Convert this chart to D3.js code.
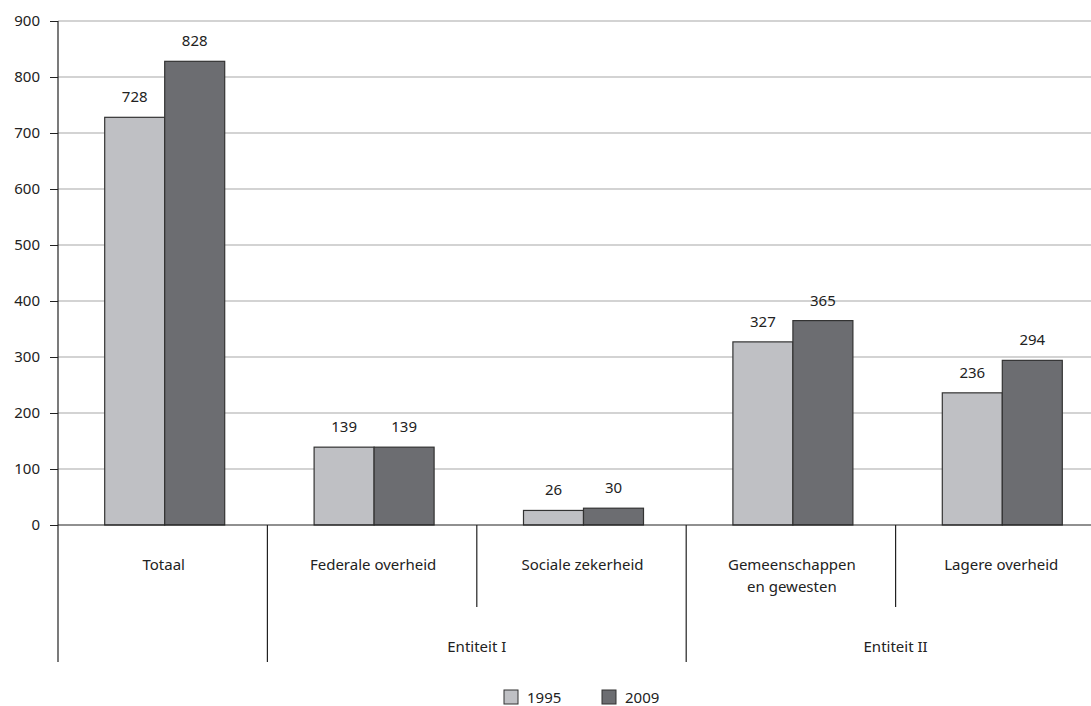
<!DOCTYPE html>
<html lang="nl">
<head>
<meta charset="UTF-8">
<title>Entiteiten</title>
<script src="https://cdn.jsdelivr.net/npm/d3@7"></script>
<style>
    * { margin: 0; padding: 0; }
    body { background: #fff; }
    svg text { font-family: "Noto Sans", "DejaVu Sans", sans-serif; font-size: 15px; fill: #222; }
</style>
</head>
<body>
<svg id="chart" width="1091" height="706"></svg>
<script>
    // data
    var categories = ["Totaal", "Federale overheid", "Sociale zekerheid", "Gemeenschappen\nen gewesten", "Lagere overheid"];
    var groups = [
        {name: "Entiteit I", from: 1, to: 2},
        {name: "Entiteit II", from: 3, to: 4}
    ];
    var years = ["1995", "2009"];
    var v1995 = [728, 139, 26, 327, 236];
    var v2009 = [828, 139, 30, 365, 294];
    var yTicks = [0, 100, 200, 300, 400, 500, 600, 700, 800, 900];

    var colors = {"1995": "#bfc0c4", "2009": "#6c6d71"};

    var svg = d3.select("#chart");
    var mLeft = 58, mTop = 21, mBottom = 525;

    var x = d3.scaleBand().domain(d3.range(categories.length)).range([mLeft, mLeft + 209.4 * 5]).paddingInner(0).paddingOuter(0);
    var y = d3.scaleLinear().domain([0, 900]).range([mBottom, mTop]);
    var xs = d3.scaleBand().domain(years).range([0, 120]);
    /* bar pair sits slightly right of the band centre */
    function barX(d) { return x(d.i) + x.bandwidth() / 2 - 58 + xs(d.year); }

    /* gridlines */
    svg.append("g").selectAll("line").data(yTicks.filter(function (d) { return d > 0; }))
        .enter().append("line")
        .attr("x1", mLeft).attr("x2", 1091)
        .attr("y1", function (d) { return y(d); }).attr("y2", function (d) { return y(d); })
        .attr("stroke", "#a8a8a8").attr("stroke-width", 1.2);

    /* y axis */
    var yAxis = svg.append("g").attr("transform", "translate(" + mLeft + ",0)")
        .call(d3.axisLeft(y).tickValues(yTicks).tickSize(8).tickPadding(10));
    yAxis.select(".domain").remove();
    yAxis.selectAll(".tick line").attr("stroke", "#222");
    yAxis.selectAll("text").attr("fill", "#222");

    /* bars */
    var data = [];
    categories.forEach(function (c, i) {
        data.push({i: i, year: "1995", v: v1995[i]});
        data.push({i: i, year: "2009", v: v2009[i]});
    });
    var bars = svg.append("g");
    bars.selectAll("rect").data(data).enter().append("rect")
        .attr("x", barX)
        .attr("y", function (d) { return y(d.v); })
        .attr("width", xs.bandwidth())
        .attr("height", function (d) { return mBottom - y(d.v); })
        .attr("fill", function (d) { return colors[d.year]; })
        .attr("stroke", "#333").attr("stroke-width", 1.2);
    bars.selectAll("text").data(data).enter().append("text")
        .attr("x", function (d) { return barX(d) + xs.bandwidth() / 2; })
        .attr("y", function (d) { return y(d.v) - 15; })
        .attr("text-anchor", "middle")
        .text(function (d) { return d.v; });

    /* axes lines */
    svg.append("line").attr("x1", mLeft).attr("x2", 1091).attr("y1", mBottom).attr("y2", mBottom)
        .attr("stroke", "#222").attr("stroke-width", 1.2);
    svg.append("line").attr("x1", mLeft).attr("x2", mLeft).attr("y1", mTop).attr("y2", 662)
        .attr("stroke", "#222").attr("stroke-width", 1.2);

    /* category dividers: group bounds long, inner short */
    var longDiv = [1, 3];
    var shortDiv = [2, 4];
    svg.append("g").selectAll("line").data(longDiv).enter().append("line")
        .attr("x1", function (d) { return x(d); }).attr("x2", function (d) { return x(d); })
        .attr("y1", mBottom).attr("y2", 662).attr("stroke", "#222").attr("stroke-width", 1.2);
    svg.append("g").selectAll("line").data(shortDiv).enter().append("line")
        .attr("x1", function (d) { return x(d); }).attr("x2", function (d) { return x(d); })
        .attr("y1", mBottom).attr("y2", 607).attr("stroke", "#222").attr("stroke-width", 1.2);

    /* category labels */
    var cl = svg.append("g").selectAll("text").data(categories).enter().append("text")
        .attr("text-anchor", "middle")
        .attr("y", 570);
    cl.each(function (c, i) {
        var t = d3.select(this);
        c.split("\n").forEach(function (line, k) {
            t.append("tspan").attr("x", x(i) + x.bandwidth() / 2 + 1).attr("dy", k === 0 ? 0 : 22).text(line);
        });
    });

    /* group labels */
    svg.append("g").selectAll("text").data(groups).enter().append("text")
        .attr("text-anchor", "middle")
        .attr("x", function (g) { return (x(g.from) + x(g.to) + x.bandwidth()) / 2; })
        .attr("y", 652)
        .text(function (g) { return g.name; });

    /* legend */
    var lg = svg.append("g").attr("transform", "translate(504,690)");
    years.forEach(function (yr, k) {
        var gx = k * 98;
        lg.append("rect").attr("x", gx).attr("y", 0).attr("width", 14).attr("height", 14)
            .attr("fill", colors[yr]).attr("stroke", "#333").attr("stroke-width", 1);
        lg.append("text").attr("x", gx + 23).attr("y", 13).text(yr);
    });
</script>
</body>
</html>
